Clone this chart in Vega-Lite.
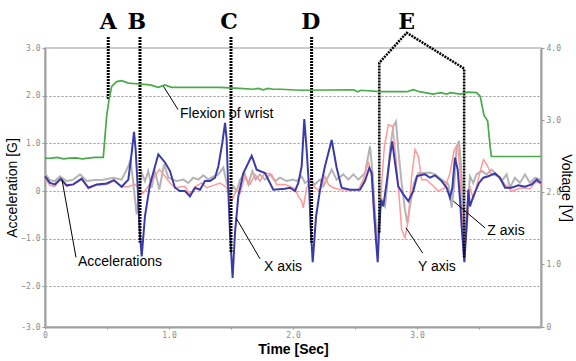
{
  "$schema": "https://vega.github.io/schema/vega-lite/v6.json",
  "width": 496,
  "height": 279,
  "autosize": {"type": "none"},
  "padding": {"left": 45, "top": 48, "right": 35, "bottom": 34},
  "background": "white",
  "config": {"view": {"stroke": "#cccccc", "strokeWidth": 2}, "font": "Liberation Sans"},
  "datasets": {
    "X": [
      {"t":0.0,"a":0.31},{"t":0.04,"a":0.17},{"t":0.08,"a":0.14},{"t":0.126,"a":0.26},{"t":0.175,"a":0.12},{"t":0.228,"a":0.14},{"t":0.296,"a":0.26},{"t":0.35,"a":0.07},{"t":0.417,"a":0.14},{"t":0.497,"a":0.16},{"t":0.556,"a":0.23},{"t":0.618,"a":0.09},{"t":0.672,"a":0.24},{"t":0.699,"a":0.8},{"t":0.718,"a":1.24},{"t":0.731,"a":0.87},{"t":0.747,"a":0.1},{"t":0.761,"a":-0.74},{"t":0.78,"a":-1.37},{"t":0.806,"a":-0.53},{"t":0.847,"a":0.14},{"t":0.914,"a":0.77},{"t":0.968,"a":0.6},{"t":1.008,"a":0.42},{"t":1.048,"a":0.07},{"t":1.089,"a":0.0},{"t":1.129,"a":0.0},{"t":1.169,"a":-0.11},{"t":1.21,"a":0.07},{"t":1.25,"a":0.03},{"t":1.29,"a":0.21},{"t":1.33,"a":0.21},{"t":1.371,"a":0.28},{"t":1.398,"a":0.52},{"t":1.43,"a":1.01},{"t":1.452,"a":1.43},{"t":1.465,"a":1.08},{"t":1.478,"a":0.03},{"t":1.492,"a":-0.88},{"t":1.513,"a":-1.82},{"t":1.532,"a":-0.88},{"t":1.559,"a":-0.11},{"t":1.6,"a":0.38},{"t":1.667,"a":0.74},{"t":1.707,"a":0.45},{"t":1.774,"a":0.38},{"t":1.841,"a":0.03},{"t":1.935,"a":0.05},{"t":1.976,"a":0.07},{"t":2.016,"a":0.0},{"t":2.043,"a":0.17},{"t":2.07,"a":0.52},{"t":2.091,"a":1.51},{"t":2.11,"a":0.87},{"t":2.132,"a":-0.04},{"t":2.142,"a":-0.74},{"t":2.159,"a":-1.49},{"t":2.186,"a":-0.53},{"t":2.218,"a":0.03},{"t":2.258,"a":0.52},{"t":2.312,"a":1.07},{"t":2.352,"a":0.49},{"t":2.392,"a":0.07},{"t":2.46,"a":0.03},{"t":2.54,"a":0.03},{"t":2.58,"a":0.21},{"t":2.616,"a":0.49},{"t":2.634,"a":0.38},{"t":2.653,"a":-0.39},{"t":2.669,"a":-1.02},{"t":2.683,"a":-1.49},{"t":2.696,"a":-0.74},{"t":2.71,"a":-0.18},{"t":2.728,"a":-0.32},{"t":2.755,"a":0.17},{"t":2.782,"a":0.73},{"t":2.8,"a":1.04},{"t":2.823,"a":0.59},{"t":2.849,"a":0.1},{"t":2.89,"a":-0.07},{"t":2.93,"a":-0.21},{"t":2.97,"a":0.0},{"t":3.0,"a":0.31},{"t":3.024,"a":0.33},{"t":3.065,"a":0.35},{"t":3.105,"a":0.28},{"t":3.145,"a":0.33},{"t":3.199,"a":0.21},{"t":3.239,"a":0.07},{"t":3.266,"a":-0.14},{"t":3.285,"a":0.07},{"t":3.306,"a":0.7},{"t":3.328,"a":0.45},{"t":3.347,"a":-0.18},{"t":3.36,"a":-0.74},{"t":3.382,"a":-1.49},{"t":3.4,"a":-0.74},{"t":3.414,"a":0.03},{"t":3.427,"a":-0.32},{"t":3.454,"a":-0.11},{"t":3.5,"a":0.17},{"t":3.535,"a":0.28},{"t":3.575,"a":0.31},{"t":3.629,"a":0.37},{"t":3.669,"a":0.28},{"t":3.71,"a":0.07},{"t":3.763,"a":0.07},{"t":3.817,"a":0.12},{"t":3.871,"a":0.09},{"t":3.925,"a":0.14},{"t":3.965,"a":0.24},{"t":4.0,"a":0.17}
    ],
    "Y": [
      {"t":0.0,"a":0.28},{"t":0.04,"a":0.12},{"t":0.08,"a":0.1},{"t":0.126,"a":0.24},{"t":0.175,"a":0.1},{"t":0.228,"a":0.14},{"t":0.296,"a":0.24},{"t":0.35,"a":0.05},{"t":0.417,"a":0.12},{"t":0.497,"a":0.14},{"t":0.556,"a":0.21},{"t":0.618,"a":0.09},{"t":0.672,"a":0.09},{"t":0.726,"a":0.14},{"t":0.753,"a":0.07},{"t":0.788,"a":-0.05},{"t":0.825,"a":0.07},{"t":0.874,"a":0.26},{"t":0.922,"a":0.45},{"t":0.968,"a":0.31},{"t":1.008,"a":0.17},{"t":1.048,"a":0.07},{"t":1.129,"a":0.1},{"t":1.169,"a":-0.07},{"t":1.21,"a":0.09},{"t":1.263,"a":0.17},{"t":1.304,"a":0.07},{"t":1.358,"a":0.12},{"t":1.411,"a":0.17},{"t":1.465,"a":0.07},{"t":1.505,"a":-0.21},{"t":1.546,"a":0.03},{"t":1.573,"a":-0.04},{"t":1.613,"a":0.31},{"t":1.653,"a":0.14},{"t":1.694,"a":0.35},{"t":1.734,"a":0.21},{"t":1.774,"a":0.38},{"t":1.828,"a":0.35},{"t":1.868,"a":0.14},{"t":1.935,"a":0.14},{"t":2.016,"a":0.05},{"t":2.043,"a":-0.11},{"t":2.07,"a":-0.21},{"t":2.083,"a":-0.35},{"t":2.11,"a":0.07},{"t":2.142,"a":0.24},{"t":2.177,"a":0.07},{"t":2.218,"a":0.0},{"t":2.258,"a":0.31},{"t":2.285,"a":0.14},{"t":2.325,"a":0.07},{"t":2.379,"a":0.03},{"t":2.446,"a":0.02},{"t":2.527,"a":0.03},{"t":2.567,"a":0.24},{"t":2.608,"a":0.62},{"t":2.634,"a":0.31},{"t":2.653,"a":-0.56},{"t":2.675,"a":-1.16},{"t":2.696,"a":-0.74},{"t":2.715,"a":0.17},{"t":2.737,"a":0.94},{"t":2.769,"a":1.39},{"t":2.804,"a":1.36},{"t":2.831,"a":0.66},{"t":2.858,"a":-0.18},{"t":2.876,"a":-0.81},{"t":2.903,"a":-0.98},{"t":2.93,"a":-0.6},{"t":2.957,"a":0.31},{"t":2.984,"a":0.87},{"t":3.011,"a":0.73},{"t":3.038,"a":0.24},{"t":3.078,"a":0.24},{"t":3.132,"a":0.1},{"t":3.172,"a":0.0},{"t":3.226,"a":0.07},{"t":3.266,"a":0.38},{"t":3.301,"a":0.87},{"t":3.328,"a":0.97},{"t":3.347,"a":0.38},{"t":3.366,"a":-0.74},{"t":3.387,"a":-1.16},{"t":3.409,"a":-0.6},{"t":3.427,"a":0.1},{"t":3.454,"a":-0.18},{"t":3.5,"a":0.31},{"t":3.535,"a":0.66},{"t":3.562,"a":0.56},{"t":3.602,"a":0.35},{"t":3.656,"a":0.31},{"t":3.71,"a":0.14},{"t":3.763,"a":0.0},{"t":3.844,"a":0.07},{"t":3.911,"a":0.05},{"t":3.965,"a":0.21},{"t":4.0,"a":0.14}
    ],
    "Z": [
      {"t":0.0,"a":0.37},{"t":0.04,"a":0.23},{"t":0.08,"a":0.21},{"t":0.12,"a":0.31},{"t":0.175,"a":0.21},{"t":0.228,"a":0.24},{"t":0.282,"a":0.35},{"t":0.336,"a":0.21},{"t":0.403,"a":0.23},{"t":0.47,"a":0.24},{"t":0.551,"a":0.28},{"t":0.618,"a":0.24},{"t":0.672,"a":0.52},{"t":0.69,"a":0.66},{"t":0.712,"a":0.17},{"t":0.739,"a":-0.49},{"t":0.761,"a":0.03},{"t":0.78,"a":0.38},{"t":0.806,"a":0.21},{"t":0.833,"a":0.42},{"t":0.86,"a":0.07},{"t":0.887,"a":0.42},{"t":0.922,"a":0.03},{"t":0.96,"a":0.56},{"t":0.995,"a":0.28},{"t":1.062,"a":0.21},{"t":1.116,"a":0.24},{"t":1.156,"a":0.17},{"t":1.196,"a":0.28},{"t":1.237,"a":0.24},{"t":1.277,"a":0.33},{"t":1.317,"a":0.24},{"t":1.358,"a":0.31},{"t":1.398,"a":0.35},{"t":1.438,"a":0.49},{"t":1.465,"a":0.17},{"t":1.492,"a":-0.04},{"t":1.519,"a":0.1},{"t":1.546,"a":0.0},{"t":1.573,"a":0.24},{"t":1.608,"a":0.38},{"t":1.64,"a":0.14},{"t":1.672,"a":0.42},{"t":1.699,"a":0.24},{"t":1.734,"a":0.35},{"t":1.774,"a":0.24},{"t":1.815,"a":0.35},{"t":1.855,"a":0.21},{"t":1.895,"a":0.28},{"t":1.949,"a":0.21},{"t":2.003,"a":0.24},{"t":2.03,"a":0.21},{"t":2.07,"a":0.31},{"t":2.097,"a":0.17},{"t":2.137,"a":0.24},{"t":2.177,"a":0.14},{"t":2.218,"a":0.24},{"t":2.245,"a":0.1},{"t":2.272,"a":0.24},{"t":2.312,"a":0.45},{"t":2.352,"a":0.24},{"t":2.406,"a":0.35},{"t":2.446,"a":0.24},{"t":2.487,"a":0.35},{"t":2.527,"a":0.24},{"t":2.581,"a":0.38},{"t":2.621,"a":0.94},{"t":2.642,"a":0.38},{"t":2.661,"a":-0.46},{"t":2.68,"a":-1.02},{"t":2.696,"a":-0.46},{"t":2.715,"a":-0.18},{"t":2.742,"a":-0.32},{"t":2.761,"a":0.17},{"t":2.782,"a":0.87},{"t":2.809,"a":1.36},{"t":2.831,"a":1.46},{"t":2.849,"a":0.87},{"t":2.876,"a":0.17},{"t":2.903,"a":-0.39},{"t":2.922,"a":-0.67},{"t":2.943,"a":-0.32},{"t":2.976,"a":0.17},{"t":3.011,"a":0.38},{"t":3.065,"a":0.38},{"t":3.105,"a":0.39},{"t":3.145,"a":0.35},{"t":3.199,"a":0.24},{"t":3.253,"a":0.14},{"t":3.28,"a":-0.35},{"t":3.301,"a":0.17},{"t":3.32,"a":0.94},{"t":3.339,"a":1.05},{"t":3.355,"a":0.52},{"t":3.374,"a":-0.6},{"t":3.387,"a":-0.95},{"t":3.406,"a":-0.39},{"t":3.427,"a":0.31},{"t":3.454,"a":0.17},{"t":3.48,"a":0.35},{"t":3.521,"a":0.42},{"t":3.562,"a":0.35},{"t":3.602,"a":0.45},{"t":3.642,"a":0.35},{"t":3.683,"a":0.21},{"t":3.723,"a":0.35},{"t":3.75,"a":0.07},{"t":3.79,"a":0.28},{"t":3.83,"a":0.17},{"t":3.871,"a":0.35},{"t":3.911,"a":0.17},{"t":3.952,"a":0.28},{"t":4.0,"a":0.24}
    ],
    "G": [
      {"t":0.0,"v":2.467},{"t":0.05,"v":2.47},{"t":0.1,"v":2.48},{"t":0.15,"v":2.46},{"t":0.2,"v":2.47},{"t":0.25,"v":2.475},{"t":0.3,"v":2.46},{"t":0.35,"v":2.47},{"t":0.4,"v":2.48},{"t":0.47,"v":2.48},{"t":0.497,"v":3.047},{"t":0.516,"v":3.28},{"t":0.538,"v":3.467},{"t":0.578,"v":3.533},{"t":0.618,"v":3.547},{"t":0.672,"v":3.513},{"t":0.766,"v":3.5},{"t":0.847,"v":3.487},{"t":0.914,"v":3.453},{"t":0.968,"v":3.487},{"t":1.02,"v":3.453},{"t":1.17,"v":3.453},{"t":1.41,"v":3.453},{"t":1.57,"v":3.44},{"t":1.68,"v":3.427},{"t":1.72,"v":3.44},{"t":1.76,"v":3.42},{"t":1.8,"v":3.44},{"t":1.84,"v":3.427},{"t":1.9,"v":3.427},{"t":1.98,"v":3.42},{"t":2.06,"v":3.413},{"t":2.49,"v":3.42},{"t":2.52,"v":3.393},{"t":2.55,"v":3.413},{"t":2.7,"v":3.393},{"t":2.92,"v":3.393},{"t":2.97,"v":3.42},{"t":3.02,"v":3.393},{"t":3.13,"v":3.36},{"t":3.19,"v":3.38},{"t":3.24,"v":3.36},{"t":3.27,"v":3.38},{"t":3.35,"v":3.36},{"t":3.41,"v":3.387},{"t":3.48,"v":3.38},{"t":3.51,"v":3.327},{"t":3.54,"v":3.067},{"t":3.57,"v":2.987},{"t":3.59,"v":2.627},{"t":3.6,"v":2.493},{"t":4.0,"v":2.493}
    ],
    "markers": [
      {"t":0.51,"a1":3.23,"a2":1.92},
      {"t":0.766,"a1":3.23,"a2":-1.08},
      {"t":1.5,"a1":3.23,"a2":-1.29},
      {"t":2.15,"a1":3.23,"a2":-1.08}
    ],
    "epath": [
      {"o":1,"t":2.696,"a":-0.87},
      {"o":2,"t":2.696,"a":2.69},
      {"o":3,"t":2.917,"a":3.32},
      {"o":4,"t":3.38,"a":2.57},
      {"o":5,"t":3.38,"a":-1.39}
    ],
    "letters": [
      {"t":0.51,"a":3.55,"label":"A"},
      {"t":0.74,"a":3.55,"label":"B"},
      {"t":1.484,"a":3.55,"label":"C"},
      {"t":2.143,"a":3.55,"label":"D"},
      {"t":2.917,"a":3.55,"label":"E"}
    ],
    "leaders": [
      {"t1":0.952,"a1":2.21,"t2":1.073,"a2":1.71},
      {"t1":0.137,"a1":0.24,"t2":0.25,"a2":-1.39},
      {"t1":1.54,"a1":-0.56,"t2":1.734,"a2":-1.42},
      {"t1":2.911,"a1":-0.77,"t2":3.046,"a2":-1.3},
      {"t1":3.293,"a1":-0.21,"t2":3.548,"a2":-0.77}
    ],
    "notes": [
      {"t":1.089,"a":1.62,"label":"Flexion of wrist"},
      {"t":0.266,"a":-1.48,"label":"Accelerations"},
      {"t":1.766,"a":-1.6,"label":"X axis"},
      {"t":3.008,"a":-1.59,"label":"Y axis"},
      {"t":3.567,"a":-0.83,"label":"Z axis"}
    ]
  },
  "layer": [
    {
      "layer": [
        {
          "data": {"name": "Z"},
          "mark": {"type": "line", "color": "#b4b4b4", "strokeWidth": 2},
          "encoding": {
            "x": {"field": "t", "type": "quantitative", "scale": {"domain": [0, 4], "nice": false, "zero": false},
              "axis": {"title": "Time [Sec]", "values": [0, 0.5, 1, 1.5, 2, 2.5, 3, 3.5],
                "labelExpr": "datum.value == 0 ? '0' : (datum.value % 1 == 0 ? format(datum.value, '.1f') : '')",
                "labelFont": "DejaVu Sans Mono", "labelFontSize": 8, "labelColor": "#8a8a8a", "labelFlush": false, "labelPadding": 2,
                "tickColor": "#999999", "tickSize": 2, "domainColor": "#a0a0a0", "domainWidth": 2, "grid": false,
                "titleFont": "Liberation Sans", "titleFontSize": 14, "titleFontWeight": "bold", "titleColor": "#000000", "titlePadding": 3}},
            "y": {"field": "a", "type": "quantitative", "scale": {"domain": [-2.85, 3], "nice": false, "zero": false},
              "axis": {"title": "Acceleration [G]", "values": [-2.85, -2, -1, 0, 1, 2, 3],
                "labelExpr": "datum.value == 0 ? '0' : (datum.value < -2.5 ? '-3.0' : format(datum.value, '.1f'))",
                "labelFont": "DejaVu Sans Mono", "labelFontSize": 8, "labelColor": "#8a8a8a", "labelPadding": 2, "labelFlush": false,
                "tickColor": "#999999", "tickSize": 3, "domainColor": "#a0a0a0", "domainWidth": 2,
                "grid": true, "gridColor": "#999999", "gridDash": [2, 2], "gridWidth": 1,
                "gridOpacity": {"condition": {"test": "abs(datum.value) > 2.5", "value": 0}, "value": 1},
                "titleFont": "Liberation Sans", "titleFontSize": 14, "titleFontWeight": "normal", "titleColor": "#000000", "titlePadding": 1}}
          }
        },
        {
          "data": {"name": "Y"},
          "mark": {"type": "line", "color": "#ff9a9a", "strokeWidth": 1.5},
          "encoding": {"x": {"field": "t", "type": "quantitative"}, "y": {"field": "a", "type": "quantitative"}}
        },
        {
          "data": {"name": "X"},
          "mark": {"type": "line", "color": "#3b3ba8", "strokeWidth": 2},
          "encoding": {"x": {"field": "t", "type": "quantitative"}, "y": {"field": "a", "type": "quantitative"}}
        },
        {
          "data": {"name": "markers"},
          "mark": {"type": "rule", "color": "#000000", "strokeWidth": 3, "strokeDash": [2, 1], "clip": false},
          "encoding": {"x": {"field": "t", "type": "quantitative"}, "y": {"field": "a1", "type": "quantitative"}, "y2": {"field": "a2"}}
        },
        {
          "data": {"name": "epath"},
          "mark": {"type": "line", "color": "#000000", "strokeWidth": 2.5, "strokeDash": [2, 1], "clip": false},
          "encoding": {"x": {"field": "t", "type": "quantitative"}, "y": {"field": "a", "type": "quantitative"}, "order": {"field": "o"}}
        },
        {
          "data": {"name": "letters"},
          "mark": {"type": "text", "font": "DejaVu Serif", "fontWeight": "bold", "fontSize": 22, "color": "#000000", "baseline": "middle", "align": "center", "clip": false},
          "encoding": {"x": {"field": "t", "type": "quantitative"}, "y": {"field": "a", "type": "quantitative"}, "text": {"field": "label"}}
        },
        {
          "data": {"name": "leaders"},
          "mark": {"type": "rule", "color": "#000000", "strokeWidth": 1},
          "encoding": {"x": {"field": "t1", "type": "quantitative"}, "y": {"field": "a1", "type": "quantitative"}, "x2": {"field": "t2"}, "y2": {"field": "a2"}}
        },
        {
          "data": {"name": "notes"},
          "mark": {"type": "text", "font": "Liberation Sans", "fontSize": 14, "color": "#000000", "baseline": "middle", "align": "left"},
          "encoding": {"x": {"field": "t", "type": "quantitative"}, "y": {"field": "a", "type": "quantitative"}, "text": {"field": "label"}}
        }
      ]
    },
    {
      "data": {"name": "G"},
      "mark": {"type": "line", "color": "#48aa48", "strokeWidth": 1.7},
      "encoding": {
        "x": {"field": "t", "type": "quantitative"},
        "y": {"field": "v", "type": "quantitative", "scale": {"domain": [0.125, 4], "nice": false, "zero": false},
          "axis": {"orient": "right", "title": "Voltage [V]", "values": [0.125, 1, 2, 3, 4],
            "labelExpr": "datum.value < 0.5 ? '0' : format(datum.value, '.1f')",
            "labelFont": "DejaVu Sans Mono", "labelFontSize": 8, "labelColor": "#8a8a8a", "labelPadding": 2, "labelFlush": false,
            "tickColor": "#999999", "tickSize": 3, "domainColor": "#a0a0a0", "domainWidth": 2, "grid": false,
            "titleFont": "Liberation Sans", "titleFontSize": 14, "titleFontWeight": "normal", "titleColor": "#000000", "titlePadding": -2}}
      }
    }
  ],
  "resolve": {"scale": {"y": "independent"}, "axis": {"y": "independent"}}
}
